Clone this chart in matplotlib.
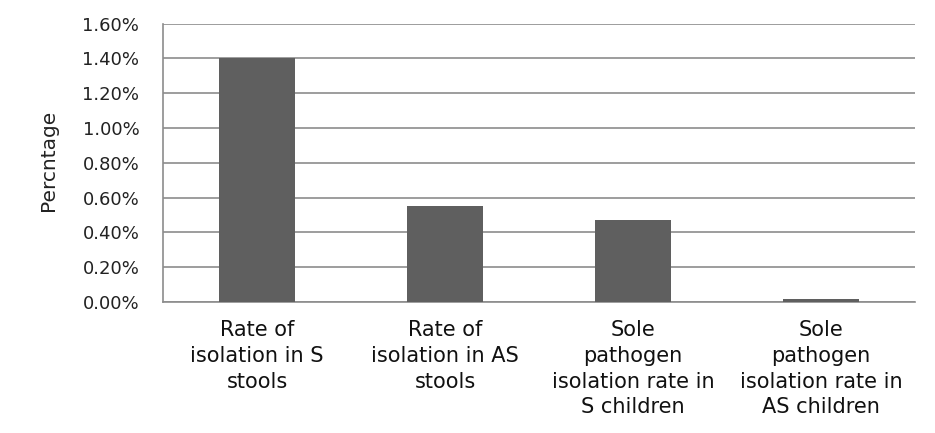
import matplotlib
matplotlib.use("Agg")
import matplotlib.pyplot as plt
from matplotlib.ticker import FuncFormatter

categories = ["Rate of\nisolation in S\nstools",
              "Rate of\nisolation in AS\nstools",
              "Sole\npathogen\nisolation rate in\nS children",
              "Sole\npathogen\nisolation rate in\nAS children"]
values = [1.40, 0.55, 0.47, 0.02]
yticks = [0.0, 0.2, 0.4, 0.6, 0.8, 1.0, 1.2, 1.4, 1.6]

fig = plt.figure(figsize=(9.35, 4.33), dpi=100)
ax = fig.add_axes([0.1743, 0.3025, 0.8043, 0.6432])

grid_c = "#8c8c8c"
ax.bar(range(len(values)), values, width=0.4, color="#5f5f5f", zorder=3)
ax.set_xlim(-0.5, len(values) - 0.5)
ax.set_ylim(0, 1.6)
ax.set_yticks(yticks)
ax.yaxis.set_major_formatter(FuncFormatter(lambda v, p: f"{v:.2f}%"))
ax.grid(axis="y", color=grid_c, linewidth=1.2, zorder=0)
ax.set_axisbelow(True)
for s in ["top", "right"]:
    ax.spines[s].set_visible(False)
for s in ["left", "bottom"]:
    ax.spines[s].set_color(grid_c)
    ax.spines[s].set_linewidth(1.2)
ax.tick_params(axis="y", length=0, pad=17, labelsize=13, labelcolor="#222222")
ax.tick_params(axis="x", length=0, pad=13)
ax.set_xticks(range(len(values)))
ax.set_xticklabels(categories, fontsize=15, family="DejaVu Sans",
                   color="#111111", linespacing=1.36)
fig.text(49 / 935, 1 - 160 / 433, "Percntage", rotation=90, ha="center",
         va="center", fontsize=14.5, color="#222222")

fig.savefig("out.png", dpi=100)
